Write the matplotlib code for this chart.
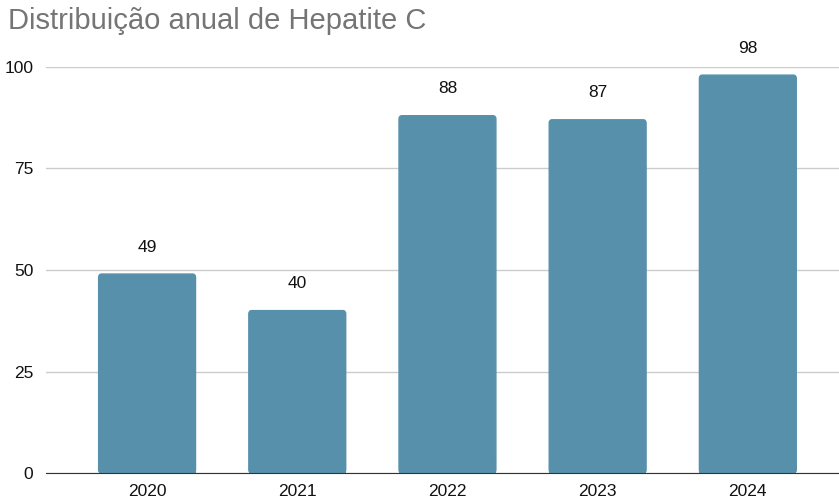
import matplotlib.pyplot as plt
from matplotlib.patches import FancyBboxPatch

plt.rcParams['font.family'] = ['Liberation Sans', 'DejaVu Sans']

anos = ['2020', '2021', '2022', '2023', '2024']
casos = [49, 40, 88, 87, 98]
yticks = [0, 25, 50, 75, 100]

fig = plt.figure(figsize=(8.39, 5.01), dpi=100)
ax = fig.add_axes([46 / 839, 28 / 501, 1 - 46 / 839, (473 - 67) / 501])

xs = range(len(anos))
bars = ax.bar(xs, casos, width=0.645, color='#5790ab', zorder=3)

# cantos superiores levemente arredondados
for b in bars:
    b.set_visible(False)
    p = FancyBboxPatch((b.get_x(), 0), b.get_width(), b.get_height(),
                       boxstyle='round,pad=0,rounding_size=0.02',
                       mutation_aspect=40, color='#5790ab', zorder=3)
    ax.add_patch(p)
    ax.bar(b.get_x() + b.get_width() / 2, min(3, b.get_height()), width=b.get_width(),
           color='#5790ab', zorder=3)

for x, v in zip(xs, casos):
    ax.text(x, v + 4.8, str(v), ha='center', va='bottom', fontsize=12.5, color='#111111')

ax.set_xlim(-0.673, 4.607)
ax.set_ylim(0, 100)
ax.set_yticks(yticks)
ax.set_xticks(list(xs))
ax.set_xticklabels(anos)
ax.grid(axis='y', color='#cccccc', linewidth=1, zorder=0)
for s in ['top', 'right', 'left']:
    ax.spines[s].set_visible(False)
ax.spines['bottom'].set_color('#333333')
ax.spines['bottom'].set_zorder(4)
ax.tick_params(axis='both', length=0, labelsize=12.5, colors='#111111')
ax.tick_params(axis='y', pad=9)
ax.tick_params(axis='x', pad=8)

fig.text(8 / 839, 1 - 21 / 501, 'Distribuição anual de Hepatite C', fontsize=21,
         color='#757575', va='center', ha='left')

fig.savefig('out.png', dpi=100)
